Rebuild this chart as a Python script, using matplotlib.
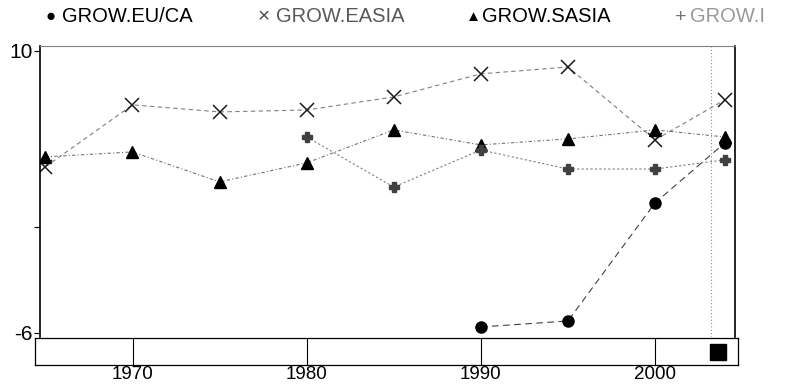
import numpy as np
import matplotlib
matplotlib.use("Agg")
import matplotlib.pyplot as plt

plt.rcParams['font.family'] = ['Liberation Sans', 'DejaVu Sans']

# data
years_eu = [1990, 1995, 2000, 2004]
grow_eu = [-5.66, -5.32, 1.38, 4.78]

years_all = [1965, 1970, 1975, 1980, 1985, 1990, 1995, 2000, 2004]
grow_easia = [3.42, 6.94, 6.54, 6.65, 7.39, 8.70, 9.09, 4.95, 7.22]
grow_sasia = [3.99, 4.27, 2.57, 3.65, 5.52, 4.67, 5.01, 5.52, 5.12]

years_i = [1980, 1985, 1990, 1995, 2000, 2004]
grow_i = [5.12, 2.28, 4.38, 3.30, 3.30, 3.82]

xticks = [1970, 1980, 1990, 2000]
yticks = [10, 0, -6]
ytick_labels = ["10", "", "-6"]
cursor_year = 2003.2
slider_year = 2003.6

fig = plt.figure(figsize=(7.89, 3.85), dpi=100)

# main plot
ax = fig.add_axes([40/789, 48/385, 695/789, 291/385])
ax.plot(years_eu, grow_eu, color='0.25', lw=0.8, ls=(0, (6, 4)),
        marker='o', ms=8, mfc='black', mec='black')
ax.plot(years_all, grow_easia, color='0.5', lw=0.8, ls=(0, (4, 3)),
        marker='x', ms=10, mec='0.1', mew=1.1)
ax.plot(years_all, grow_sasia, color='0.45', lw=0.8, ls=(0, (3, 2, 1, 2)),
        marker='^', ms=8, mfc='black', mec='black')
ax.plot(years_i, grow_i, color='0.5', lw=0.8, ls=(0, (2, 2)),
        marker='P', ms=7, mfc='0.25', mec='0.25')
ax.axvline(cursor_year, color='0.55', lw=0.8, ls=(0, (1, 2)))

ax.set_xlim(1964.69, 2004.59)
ax.set_ylim(-6.23, 10.28)
ax.set_xticks([])
ax.set_yticks(yticks)
ax.set_yticklabels(ytick_labels, fontsize=15)
ax.tick_params(axis='y', length=4, width=0.8, pad=1)
ax.spines['top'].set_color('0.5')
ax.spines['top'].set_linewidth(0.8)
ax.spines['bottom'].set_visible(False)
ax.spines['left'].set_linewidth(1.2)
ax.spines['right'].set_linewidth(1.2)

# time slider strip under the plot
ax2 = fig.add_axes([35/789, 20/385, 703/789, 27/385])
ax2.set_xlim(1964.40, 2004.76)
ax2.set_ylim(0, 1)
for yr in xticks:
    ax2.axvline(yr, color='black', lw=0.8)
ax2.plot([slider_year], [0.5], marker='s', ms=11, color='black')
ax2.set_xticks(xticks)
ax2.set_xticklabels([str(t) for t in xticks], fontsize=13.5)
ax2.tick_params(axis='x', length=0, pad=1)
ax2.set_yticks([])
for s in ax2.spines.values():
    s.set_linewidth(0.9)

# legend row: marker glyph then label
legend_items = [
    (46, 62, "\u25cf", 12, "GROW.EU/CA", 'black', 'black'),
    (258, 276, "\u00d7", 15, "GROW.EASIA", '0.3', '0.35'),
    (466, 482, "\u25b2", 11, "GROW.SASIA", 'black', 'black'),
    (675, 690, "+", 14, "GROW.I", '0.45', '0.6'),
]
for gx, tx, glyph, gsize, label, mcol, tcol in legend_items:
    fig.text(gx/789, 1 - 17/385, glyph, fontsize=gsize, color=mcol,
             ha='left', va='center')
    fig.text(tx/789, 1 - 17/385, label, fontsize=14.5, color=tcol,
             ha='left', va='center')

fig.savefig("out.png", dpi=100)
